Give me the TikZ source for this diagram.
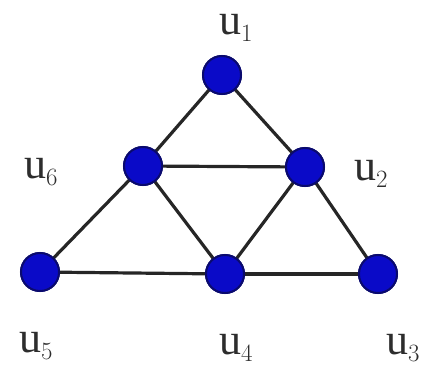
\documentclass[tikz,border=0pt]{standalone}
\usepackage{fontspec}
\setmainfont{Liberation Serif}
\usepackage{tikz}
\usetikzlibrary{positioning}
\definecolor{vertexBlue}{RGB}{10,10,200}
\definecolor{vertexEdge}{RGB}{10,10,110}
\definecolor{labelGray}{RGB}{45,45,45}
\tikzset{
    vertexNode/.style={circle, draw=vertexEdge, fill=vertexBlue, line width=2pt, inner sep=0pt, minimum size=38pt},
    edgeLine/.style={line width=3.2pt, black!85},
    vertexLabel/.style={inner sep=0pt, text=labelGray, font=\fontsize{44}{44}\selectfont}
}
\begin{document}
\begin{tikzpicture}[x=1pt, y=-1pt]
        \useasboundingbox (0,0) rectangle (426,370);

        % --- Vertices ---
        \node[vertexNode] (u1) at (222,75)  {};
        \node[vertexNode] (u6) at (143,166) {};
        \node[vertexNode] (u2) at (305,167) {};
        \node[vertexNode] (u5) at (40,272)  {};
        \node[vertexNode] (u4) at (225,274) {};
        \node[vertexNode] (u3) at (378,274) {};

        % --- Edges ---
        \draw[edgeLine] (u1.center) -- (u6.center);
        \draw[edgeLine] (u1.center) -- (u2.center);
        \draw[edgeLine] (u6.center) -- (u2.center);
        \draw[edgeLine] (u6.center) -- (u5.center);
        \draw[edgeLine] (u6.center) -- (u4.center);
        \draw[edgeLine] (u2.center) -- (u4.center);
        \draw[edgeLine] (u2.center) -- (u3.center);
        \draw[edgeLine] (u5.center) -- (u4.center);
        \draw[edgeLine] (u4.center) -- (u3.center);

        % --- Vertices again on top of the edges ---
        \foreach \v in {u1,u2,u3,u4,u5,u6} {
            \node[vertexNode] at (\v) {};
        }

        % --- Labels ---
        \node[vertexLabel] (lu1) at (236,28)  {u$_1$};
        \node[vertexLabel] (lu6) at (41,172)  {u$_6$};
        \node[vertexLabel] (lu2) at (371,174) {u$_2$};
        \node[vertexLabel] (lu5) at (36,346)  {u$_5$};
        \node[vertexLabel] (lu4) at (236,348) {u$_4$};
        \node[vertexLabel] (lu3) at (403,348) {u$_3$};

\end{tikzpicture}
\end{document}
